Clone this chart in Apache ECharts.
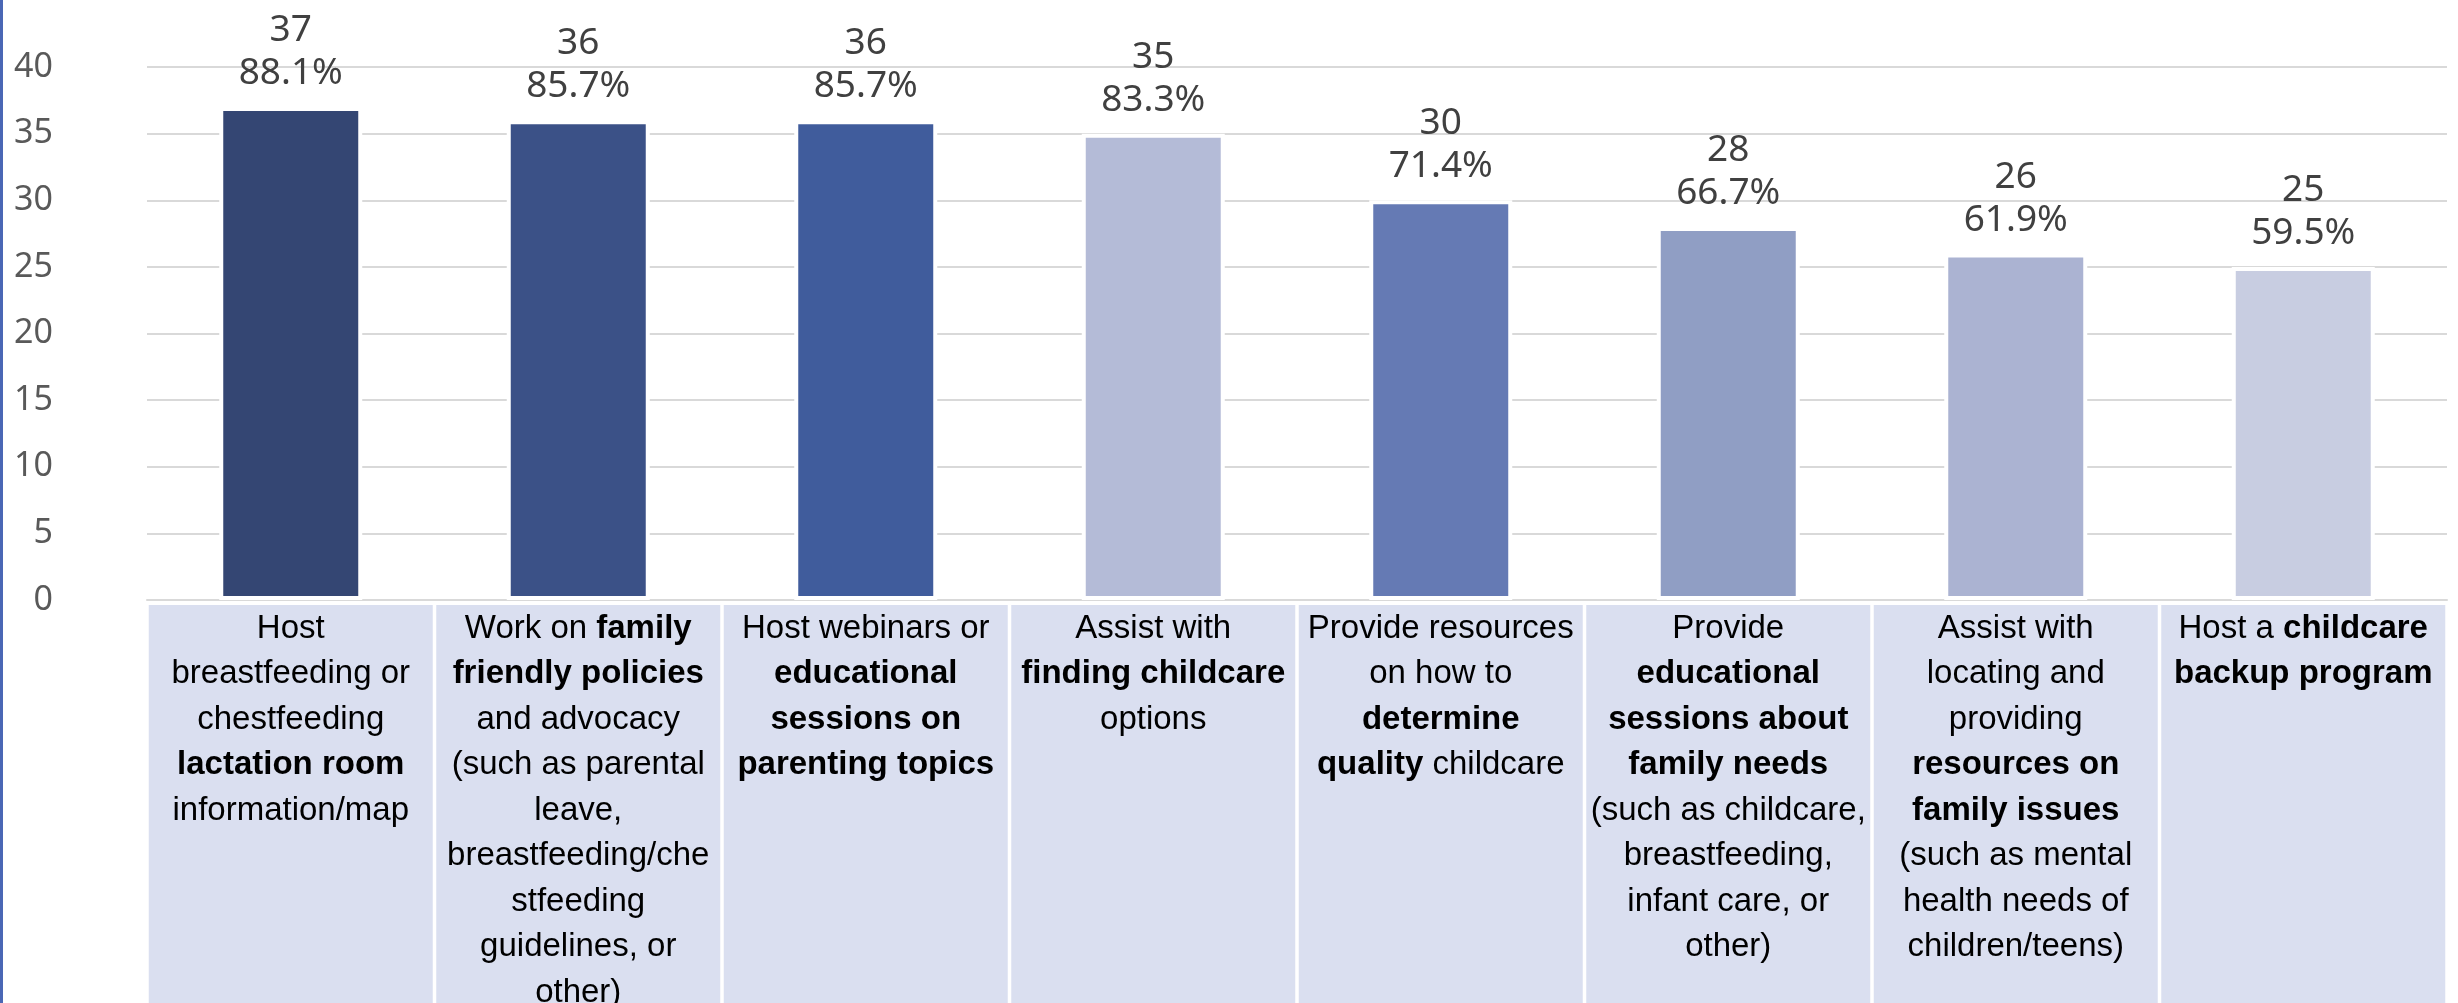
<!DOCTYPE html>
<html>
<head>
<meta charset="utf-8">
<title>Family support activities</title>
<script src="https://cdn.jsdelivr.net/npm/echarts@6/dist/echarts.min.js"></script>
<style>
  html, body { margin: 0; padding: 0; background: #fff; }
  #chart { width: 2458px; height: 1003px; }
</style>
</head>
<body>
<div id="chart"></div>
<script>
// category text: "\n" = line break, *...* = bold part
var categories = [
  'Host\nbreastfeeding or\nchestfeeding\n*lactation room*\ninformation/map',
  'Work on *family*\n*friendly policies*\nand advocacy\n(such as parental\nleave,\nbreastfeeding/che\nstfeeding\nguidelines, or\nother)',
  'Host webinars or\n*educational*\n*sessions on*\n*parenting topics*',
  'Assist with\n*finding childcare*\noptions',
  'Provide resources\non how to\n*determine*\n*quality* childcare',
  'Provide\n*educational*\n*sessions about*\n*family needs*\n(such as childcare,\nbreastfeeding,\ninfant care, or\nother)',
  'Assist with\nlocating and\nproviding\n*resources on*\n*family issues*\n(such as mental\nhealth needs of\nchildren/teens)',
  'Host a *childcare*\n*backup program*'
]
var counts = [37, 36, 36, 35, 30, 28, 26, 25]
var percents = [88.1, 85.7, 85.7, 83.3, 71.4, 66.7, 61.9, 59.5]
var barColors = ['#344673', '#3b5187', '#405c9c', '#b4bbd7', '#657ab4', '#909ec4', '#abb3d2', '#c8cde1']
var yTicks = { min: 0, max: 40, step: 5 }

// turn the *bold* markup into echarts rich text
function toRich (text) {
  return text.split('\n').map(function (line) {
    return line.split('*').map(function (part, i) {
      if (!part) return ''
      return '{' + (i % 2 ? 'b' : 'n') + '|' + part + '}'
    }).join('')
  }).join('\n')
}

var chart = echarts.init(document.getElementById('chart'))

chart.setOption({
  animation: false,
  graphic: [
    {
      type: 'rect',
      left: 0,
      top: 0,
      shape: { width: 3, height: 1003 },
      style: { fill: '#4a67b5' }
    }
  ],
  grid: {
    left: 147,
    right: 11,
    top: 67,
    bottom: 403,
    containLabel: false,
    outerBoundsMode: 'none'
  },
  xAxis: {
    type: 'category',
    data: categories,
    axisLine: { show: true, lineStyle: { color: '#d9d9d9', width: 2 } },
    axisTick: { show: false },
    axisLabel: {
      interval: 0,
      margin: 5,
      width: 284,
      height: 420,
      overflow: 'none',
      align: 'center',
      verticalAlign: 'top',
      padding: [1, 0, 0, 0],
      backgroundColor: '#dadff0',
      formatter: function (value) {
        return toRich(value)
      },
      rich: {
        n: {
          fontFamily: 'Liberation Sans',
          fontSize: 33,
          lineHeight: 45.5,
          color: '#000'
        },
        b: {
          fontFamily: 'Liberation Sans',
          fontSize: 33,
          fontWeight: 'bold',
          lineHeight: 45.5,
          color: '#000'
        }
      }
    }
  },
  yAxis: {
    type: 'value',
    min: yTicks.min,
    max: yTicks.max,
    interval: yTicks.step,
    axisLine: { show: false },
    axisTick: { show: false },
    axisLabel: {
      margin: 94,
      padding: [6, 0, 0, 0],
      fontFamily: 'Noto Sans',
      fontSize: 34,
      color: '#595959'
    },
    splitLine: { lineStyle: { color: '#d9d9d9', width: 2 } }
  },
  series: [
    {
      type: 'bar',
      barWidth: 143,
      data: counts.map(function (v, i) {
        return { value: v, itemStyle: { color: barColors[i] } }
      }),
      itemStyle: { borderColor: '#fff', borderWidth: 4 },
      label: {
        show: true,
        position: 'top',
        distance: 12,
        fontFamily: 'Noto Sans',
        fontSize: 37,
        lineHeight: 43,
        color: '#404040',
        formatter: function (p) {
          return p.value + '\n' + percents[p.dataIndex].toFixed(1) + '%'
        }
      }
    }
  ]
})
</script>
</body>
</html>
